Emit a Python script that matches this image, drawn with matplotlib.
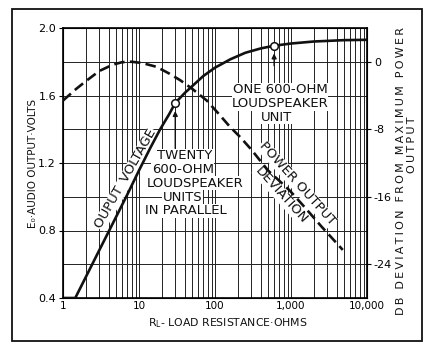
import numpy as np
import matplotlib
matplotlib.use('Agg')
import matplotlib.pyplot as plt
from matplotlib.ticker import LogLocator, NullFormatter
from matplotlib.patches import Rectangle

# output voltage vs load resistance
load_ohms = [1, 1.45, 2, 3, 5, 7, 10, 14, 19, 25, 30, 40, 50, 70, 100, 160, 250,
             400, 600, 1000, 2000, 5000, 10000]
out_volts = [0.40, 0.40, 0.525, 0.683, 0.881, 1.012, 1.156, 1.287, 1.40, 1.49, 1.556,
             1.615, 1.655, 1.715, 1.765, 1.815, 1.853, 1.879, 1.895, 1.908, 1.92, 1.928, 1.93]

# power output, db below maximum
pwr_ohms = [1, 1.5, 2, 3, 4.5, 6, 8, 11, 17, 25, 35, 50, 78, 110, 157, 213, 300,
            500, 700, 970, 1500, 2500, 4800]
pwr_db = [-4.6, -3.2, -2.3, -1.1, -0.35, -0.05, 0.0, -0.15, -0.6, -1.4, -2.2, -3.2,
          -4.6, -6.1, -7.7, -8.9, -10.4, -12.9, -14.1, -15.3, -17.2, -19.5, -22.3]

marked_ohms = [30, 600]
marked_volts = [1.556, 1.895]

x_ticks = [1, 10, 100, 1000, 10000]
x_labels = ['1', '10', '100', '1,000', '10,000']
v_ticks = [0.4, 0.8, 1.2, 1.6, 2.0]
v_labels = ['0.4', '0.8', '1.2', '1.6', '2.0']
db_ticks = [0, -8, -16, -24]
db_labels = ['0', '-8', '-16', '-24']

twenty_lines = ['TWENTY', '600-OHM', 'LOUDSPEAKER', 'UNITS', 'IN PARALLEL']
one_lines = ['ONE 600-OHM', 'LOUDSPEAKER', 'UNIT']


def spaced(s, sep='\u2009'):
    # widen the lettering a little
    return sep.join(s)


W, H = 429, 346
fig = plt.figure(figsize=(W / 100, H / 100), dpi=100)
ax = fig.add_axes([63 / W, 1 - 298 / H, 304 / W, 270 / H])

ax.set_xscale('log')
ax.set_xlim(1, 10000)
ax.set_ylim(0.4, 2.0)
ax.set_xticks(x_ticks)
ax.set_xticklabels(x_labels)
ax.xaxis.set_minor_locator(LogLocator(base=10, subs=np.arange(2, 10)))
ax.xaxis.set_minor_formatter(NullFormatter())
ax.set_yticks(v_ticks)
ax.set_yticklabels(v_labels)
ax.set_yticks(np.arange(0.6, 2.0, 0.4), minor=True)
ax.grid(True, which='both', color='#222222', lw=0.7)
ax.tick_params(axis='x', which='both', length=0, pad=2, labelsize=7.5)
ax.tick_params(axis='y', which='major', length=3, pad=2, labelsize=8)
ax.tick_params(axis='y', which='minor', length=0)
for s in ax.spines.values():
    s.set_linewidth(1.2)

ax.plot(load_ohms, out_volts, color='#111111', lw=1.9, zorder=4, solid_capstyle='butt')
ax.plot(marked_ohms, marked_volts, 'o', ms=5.5, mfc='white', mec='#111111', mew=1.1, zorder=5)

ax2 = ax.twinx()
ax2.set_ylim(-28, 4)
ax2.set_yticks(db_ticks)
ax2.set_yticklabels(db_labels)
ax2.tick_params(length=3, pad=2, labelsize=8)
ax2.plot(pwr_ohms, pwr_db, color='#111111', lw=1.9, dashes=(4, 2), zorder=4)

# arrows to the marked points
ax.annotate('', xy=(30, 1.525), xytext=(30, 1.27),
            arrowprops=dict(arrowstyle='-|>', lw=1.0, color='#111111', mutation_scale=7))
ax.annotate('', xy=(600, 1.866), xytext=(600, 1.76),
            arrowprops=dict(arrowstyle='-|>', lw=1.0, color='#111111', mutation_scale=7))

box = dict(facecolor='white', edgecolor='none', pad=0.4)
tkw = dict(ha='center', va='center', fontsize=9.5, color='#111111', bbox=box, zorder=3)

# hand-lettered blocks: each line centred a little differently
twenty_x = [39.5, 37.5, 54, 37.5, 41.5]
for i, line in enumerate(twenty_lines):
    ax.text(twenty_x[i], 1.242 - i * 0.0815, line, **tkw)
one_x = [716, 716, 640]
for i, line in enumerate(one_lines):
    ax.text(one_x[i], 1.633 - i * 0.0815, line, **tkw)

ax.text(6.75, 1.105, 'OUPUT \u2009VOLTAGE', rotation=60.5, rotation_mode='anchor', **tkw)
ax.text(1200, 1.076, 'POWER OUTPUT', rotation=-48, rotation_mode='anchor', **tkw)
ax.text(738, 1.01, 'DEVIATION', rotation=-48, rotation_mode='anchor', **tkw)

# axis titles
fig.text(33 / W, 1 - 163 / H, 'E₀·AUDIO OUTPUT·VOLTS', rotation=90,
         ha='center', va='center', fontsize=7.5, color='#111111')
fig.text(228 / W, 1 - 323 / H, r'R$_\mathregular{L}$- LOAD RESISTANCE·OHMS',
         ha='center', va='center', fontsize=7.8, color='#111111')
fig.text(401 / W, 1 - 171 / H, spaced('DB DEVIATION FROM MAXIMUM POWER'), rotation=90,
         ha='center', va='center', fontsize=8, color='#111111')
fig.text(412 / W, 1 - 145 / H, spaced('OUTPUT'), rotation=90,
         ha='center', va='center', fontsize=8, color='#111111')

# outer frame
fig.patches.append(Rectangle((12 / W, 1 - 341 / H), 410 / W, 332 / H,
                             transform=fig.transFigure, fill=False,
                             edgecolor='#111111', lw=1.3))

fig.savefig('out.png', dpi=100)
